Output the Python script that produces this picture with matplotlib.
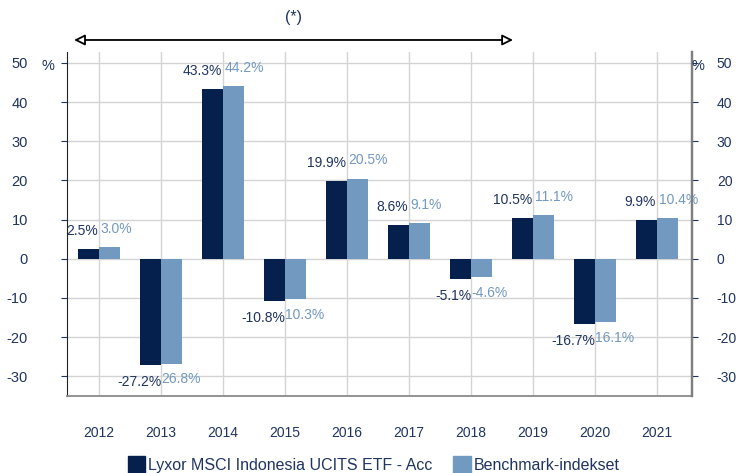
import matplotlib.pyplot as plt
import numpy as np

plt.rcParams['font.family'] = ['Liberation Sans', 'DejaVu Sans']
plt.rcParams['axes.unicode_minus'] = False

years = ['2012', '2013', '2014', '2015', '2016', '2017', '2018', '2019', '2020', '2021']
fund = [2.5, -27.2, 43.3, -10.8, 19.9, 8.6, -5.1, 10.5, -16.7, 9.9]
bench = [3.0, -26.8, 44.2, -10.3, 20.5, 9.1, -4.6, 11.1, -16.1, 10.4]
yticks = [-30, -20, -10, 0, 10, 20, 30, 40, 50]

dark = '#05204d'
light = '#7299bf'
txt = '#1f3460'
grid = '#d4d4d4'

fig = plt.figure(figsize=(7.36, 4.73), dpi=100)
ax = fig.add_axes([0.091, 0.163, 0.849, 0.727])

x = np.arange(len(years))
w = 0.34
ax.bar(x - w / 2, fund, w, color=dark, zorder=3)
ax.bar(x + w / 2, bench, w, color=light, zorder=3)

ax.set_xlim(-0.52, 9.56)
ax.set_ylim(-35, 52.8)
ax.set_yticks(yticks)
ax.set_xticks(x)
ax.set_xticklabels(years, fontsize=10, color=txt)
ax.tick_params(axis='x', length=0, pad=22)
ax.tick_params(axis='y', direction='out', length=4, color=txt, labelsize=10.5, labelcolor=txt, pad=24)
ax.grid(True, color=grid, lw=1, zorder=0)

ax.spines['top'].set_visible(False)
ax.spines['left'].set_color('#222222')
ax.spines['right'].set_color('#7f7f7f')
ax.spines['right'].set_linewidth(1.6)
ax.spines['bottom'].set_color('#8a8a8a')
ax.spines['bottom'].set_linewidth(1.3)

ax2 = ax.twinx()
ax2.set_ylim(ax.get_ylim())
ax2.set_yticks(yticks)
ax2.tick_params(axis='y', direction='out', length=4, color=txt, labelsize=10, labelcolor=txt, pad=14)
for s in ['top', 'left', 'bottom']:
    ax2.spines[s].set_visible(False)
ax2.spines['right'].set_color('#7f7f7f')
ax2.spines['right'].set_linewidth(1.6)

# value labels
for i in range(len(years)):
    f, b = fund[i], bench[i]
    if f >= 0:
        ax.annotate(f'{f:.1f}%', (i, f), xytext=(-1, 8), textcoords='offset points',
                    ha='right', va='bottom', fontsize=10, color=txt, zorder=5)
        ax.annotate(f'{b:.1f}%', (i, b), xytext=(1, 8), textcoords='offset points',
                    ha='left', va='bottom', fontsize=10, color=light, zorder=5)
    else:
        blab = f'{abs(b):.1f}%' if b < -10 else f'{b:.1f}%'
        ax.annotate(f'{f:.1f}%', (i, f), xytext=(0, -7), textcoords='offset points',
                    ha='right', va='top', fontsize=10, color=txt, zorder=5)
        ax.annotate(blab, (i, min(f, b)), xytext=(0, -5), textcoords='offset points',
                    ha='left', va='top', fontsize=10, color=light, zorder=5)

fig.text(0.065, 0.861, '%', fontsize=10.5, color=txt, ha='center', va='center')
fig.text(0.948, 0.861, '%', fontsize=10.5, color=txt, ha='center', va='center')

# arrow and note
ax.annotate('', xy=(6.72, 1.035), xytext=(-0.45, 1.035),
            xycoords=('data', 'axes fraction'), textcoords=('data', 'axes fraction'),
            arrowprops=dict(arrowstyle='<|-|>', fc='white', ec='black', lw=1.3,
                            mutation_scale=16), annotation_clip=False)
ax.text(3.13, 1.099, '(*)', transform=ax.get_xaxis_transform(), ha='center', va='center',
        fontsize=11.5, color=txt)

h1 = plt.Rectangle((0, 0), 1, 1, color=dark)
h2 = plt.Rectangle((0, 0), 1, 1, color=light)
fig.legend([h1, h2], ['Lyxor MSCI Indonesia UCITS ETF - Acc', 'Benchmark-indekset'],
           loc='center', bbox_to_anchor=(0.508, 0.018), ncol=2, frameon=False,
           fontsize=11.5, handlelength=1.1, handleheight=1.3, handletextpad=0.2,
           columnspacing=1.3, labelcolor=txt)

fig.savefig('out.png', dpi=100)
